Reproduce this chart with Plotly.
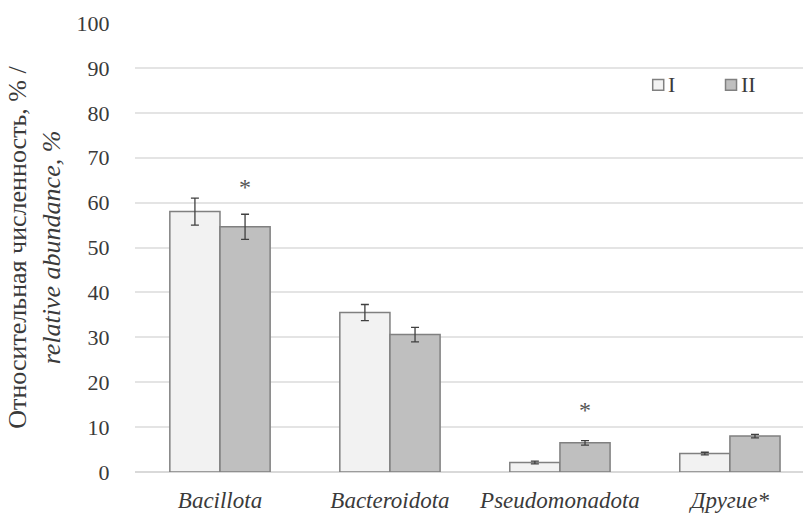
import plotly.graph_objects as go

# Relative abundance of bacterial phyla, groups I and II
categories = ["Bacillota", "Bacteroidota", "Pseudomonadota", "Другие*"]
group_names = ["I", "II"]
values_I = [58.0, 35.5, 2.1, 4.1]
errors_I = [3.0, 1.8, 0.3, 0.3]
values_II = [54.6, 30.6, 6.5, 8.0]
errors_II = [2.8, 1.6, 0.5, 0.4]

# significance markers (category, y position)
sig_categories = ["Bacillota", "Pseudomonadota"]
sig_y = [63.5, 13.8]

y_ticks = [0, 10, 20, 30, 40, 50, 60, 70, 80, 90, 100]

fill_colors = ["#f2f2f2", "#bfbfbf"]
edge_color = "#808080"
serif = "serif"
text_color = "#3a3a3a"

fig = go.Figure()
for name, vals, errs, col in zip(group_names, [values_I, values_II],
                                 [errors_I, errors_II], fill_colors):
    fig.add_trace(go.Bar(
        x=categories, y=vals, name=name, showlegend=False,
        marker=dict(color=col, line=dict(color=edge_color, width=1.5)),
        error_y=dict(type="data", array=errs, color="#404040", thickness=1.3, width=4),
    ))

# asterisks above group II bars
for cat, yv in zip(sig_categories, sig_y):
    fig.add_annotation(
        x=cat, y=yv, text="*", showarrow=False, xshift=25,
        font=dict(family=serif, size=24, color="#555555"),
    )

# compact legend: small swatch followed by the group label
legend_x = [0.775, 0.884]
legend_y = 0.862
box_w, box_h = 0.0165, 0.024
for name, col, lx in zip(group_names, fill_colors, legend_x):
    fig.add_shape(
        type="rect", xref="paper", yref="paper",
        x0=lx, x1=lx + box_w, y0=legend_y - box_h / 2, y1=legend_y + box_h / 2,
        fillcolor=col, line=dict(color=edge_color, width=1.5),
    )
    fig.add_annotation(
        xref="paper", yref="paper", x=lx + box_w + 0.003, y=legend_y,
        xanchor="left", yanchor="middle", text=name, showarrow=False,
        font=dict(family=serif, size=22, color=text_color),
    )

fig.update_layout(
    width=803, height=513,
    margin=dict(l=135, r=0, t=23, b=41),
    paper_bgcolor="white", plot_bgcolor="white",
    font=dict(family=serif, color=text_color),
    barmode="group", bargap=0.41, bargroupgap=0,
    showlegend=False,
    xaxis=dict(
        range=[-0.5, 3.43], showgrid=False, showline=False, automargin=False,
        ticks="outside", ticklen=7, tickcolor="rgba(0,0,0,0)",
        tickvals=categories, ticktext=[f"<i>{c}</i>" for c in categories],
        tickfont=dict(family=serif, size=23),
    ),
    yaxis=dict(
        range=[0, 100], tickvals=y_ticks, showgrid=True, automargin=False,
        gridcolor="#e4e4e4", gridwidth=1.5, zeroline=True,
        zerolinecolor="#d9d9d9", zerolinewidth=1.5, showline=False,
        ticks="outside", ticklen=20, tickcolor="rgba(0,0,0,0)",
        tickfont=dict(family=serif, size=22),
        title=dict(
            text="Относительная численность, % /<br><i>relative abundance, %</i>",
            font=dict(family=serif, size=26),
            standoff=8,
        ),
    ),
)

fig.write_html("out.html")
